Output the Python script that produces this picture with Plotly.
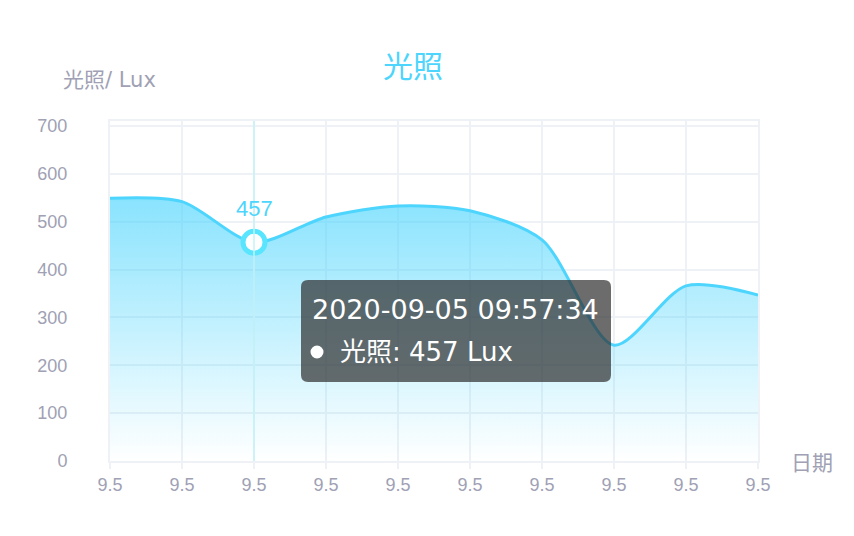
import plotly.graph_objects as go

# ---- data ----
dates = ["9.5", "9.5", "9.5", "9.5", "9.5", "9.5", "9.5", "9.5", "9.5", "9.5"]
lux = [549, 542, 457, 510, 533, 523, 462, 242, 366, 347]
y_ticks = [0, 100, 200, 300, 400, 500, 600, 700]
hl_index = 2
tooltip_time = "2020-09-05 09:57:34"
series_name = "光照"
unit = "Lux"

# ---- style ----
W, H = 854, 536
L, R, T, B = 110, 96, 121, 75
PW, PH = W - L - R, H - T - B
CYAN = "#4dd5fd"
GRID = "#eef1f5"
GREY = "#a0a1b4"
FONT = "Liberation Sans, Noto Sans CJK SC, sans-serif"
WFONT = "DejaVu Sans, Noto Sans CJK SC, sans-serif"
xs = list(range(len(dates)))
ymax = 700 * PH / (461 - 126)


def px(xp):
    return (xp - L) / PW


def py(yp):
    return (H - B - yp) / PH


fig = go.Figure()
fig.add_trace(go.Scatter(
    x=xs, y=lux, mode="lines",
    line=dict(color=CYAN, width=3, shape="spline", smoothing=0.8),
    fill="tozeroy",
    fillgradient=dict(type="vertical", start=0, stop=max(lux),
                      colorscale=[[0, "rgba(77,213,253,0)"], [1, "rgba(77,213,253,0.66)"]]),
    hoverinfo="skip", showlegend=False,
))

# axis pointer line
fig.add_shape(type="line", xref="x", yref="paper", x0=xs[hl_index], x1=xs[hl_index],
              y0=0, y1=1, line=dict(color="#c3f3f7", width=1.5), layer="above")

# highlighted point
fig.add_trace(go.Scatter(
    x=[xs[hl_index]], y=[lux[hl_index]], mode="markers",
    marker=dict(size=22, color="white", line=dict(color="#5ae5ff", width=5)),
    hoverinfo="skip", showlegend=False,
))

# tooltip box (rounded)
x0, x1 = 301 - L, 611 - L
y0, y1 = H - B - 382, H - B - 280
r = 7
path = (f"M {x0+r},{y1} L {x1-r},{y1} Q {x1},{y1} {x1},{y1-r} L {x1},{y0+r} "
        f"Q {x1},{y0} {x1-r},{y0} L {x0+r},{y0} Q {x0},{y0} {x0},{y0+r} "
        f"L {x0},{y1-r} Q {x0},{y1} {x0+r},{y1} Z")
fig.add_shape(type="path", xref="paper", yref="paper", xsizemode="pixel", ysizemode="pixel",
              xanchor=0, yanchor=0, path=path, fillcolor="rgba(45,45,45,0.7)",
              line=dict(width=0), layer="above")
# tooltip marker dot
cx, cy, cr = 317 - L, H - B - 352, 6.5
fig.add_shape(type="circle", xref="paper", yref="paper", xsizemode="pixel", ysizemode="pixel",
              xanchor=0, yanchor=0, x0=cx - cr, x1=cx + cr, y0=cy - cr, y1=cy + cr,
              fillcolor="white", line=dict(width=0), layer="above")

annos = [
    dict(text=tooltip_time, x=px(310), y=py(309), xanchor="left", yanchor="middle",
         font=dict(color="white", size=27, family=WFONT)),
    dict(text=f"{series_name}: {lux[hl_index]} {unit}", x=px(338), y=py(352),
         xanchor="left", yanchor="middle", font=dict(color="white", size=26, family=WFONT)),
    dict(text=series_name, x=px(413), y=py(67), xanchor="center", yanchor="middle",
         font=dict(color=CYAN, size=30, family=FONT)),
    dict(text=f"{series_name}/ {unit}", x=px(61), y=py(80), xanchor="left", yanchor="middle",
         font=dict(color=GREY, size=21, family=WFONT)),
    dict(text="日期", x=px(789), y=py(462), xanchor="left", yanchor="middle",
         font=dict(color=GREY, size=21, family=FONT)),
]
for a in annos:
    a.update(xref="paper", yref="paper", showarrow=False)
annos.append(dict(text=str(lux[hl_index]), x=xs[hl_index], y=lux[hl_index], xref="x", yref="y",
                  showarrow=False, yshift=34, font=dict(color=CYAN, size=22, family=FONT)))
fig.update_layout(annotations=annos)

fig.update_layout(
    width=W, height=H, margin=dict(l=L, r=R, t=T, b=B),
    paper_bgcolor="white", plot_bgcolor="white",
    font=dict(family=FONT, color=GREY),
    xaxis=dict(range=[0, len(dates) - 1], tickvals=xs, ticktext=dates,
               showgrid=True, gridcolor=GRID, gridwidth=2, zeroline=False,
               showline=True, linecolor=GRID, linewidth=2, mirror=True,
               ticks="outside", ticklen=6, tickcolor=GRID, tickwidth=2,
               tickfont=dict(size=18, color=GREY), fixedrange=True),
    yaxis=dict(range=[0, ymax], tickvals=y_ticks,
               showgrid=True, gridcolor=GRID, gridwidth=2, zeroline=False,
               showline=True, linecolor=GRID, linewidth=2, mirror=True,
               ticks="", ticklabelstandoff=37,
               tickfont=dict(size=18, color=GREY), fixedrange=True),
)

fig.write_html("out.html", config={"displayModeBar": False},
               post_script="document.body.style.margin='0';")
